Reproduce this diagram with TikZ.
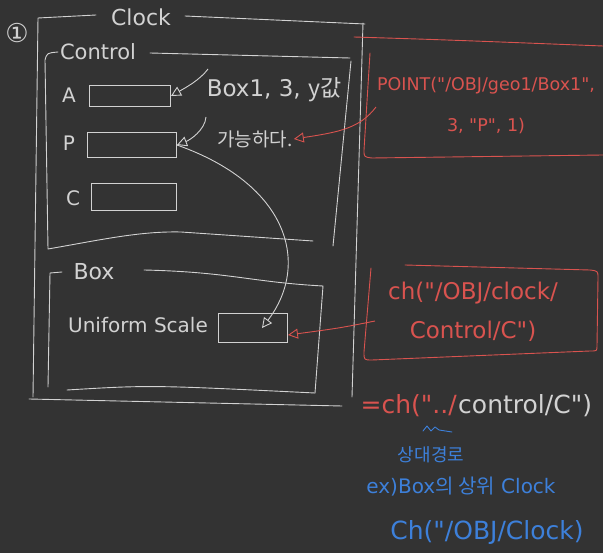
\documentclass[tikz,border=0pt]{standalone}
\usepackage{fontspec}
\setmainfont{DejaVu Sans}[Ligatures=TeXOff]
\newfontfamily\kor{Noto Sans CJK KR}
\usetikzlibrary{arrows.meta, positioning, calc}
\usepackage{xcolor}
\definecolor{boardgrey}{HTML}{333333}
\definecolor{chalkwhite}{HTML}{D2D2D2}
\definecolor{penred}{HTML}{D9534F}
\definecolor{penblue}{HTML}{3D80DA}
\tikzset{
  frameline/.style={draw=chalkwhite, line width=0.9pt, line cap=round, line join=round},
  redline/.style={draw=penred, line width=0.9pt, line cap=round, line join=round},
  blueline/.style={draw=penblue, line width=0.9pt, line cap=round, line join=round},
  fieldbox/.style={rectangle, draw=chalkwhite, line width=0.9pt, inner sep=0pt},
  chalktext/.style={text=chalkwhite, inner sep=1pt, font=\fontsize{20}{22}\selectfont},
  redtext/.style={text=penred, inner sep=1pt, align=center},
  bluetext/.style={text=penblue, inner sep=1pt},
  notelink/.style={->, draw=chalkwhite, line width=0.9pt,
                   >={Triangle[open, length=10pt, width=10pt]}},
  redlink/.style={->, draw=penred, line width=0.9pt,
                  >={Triangle[open, length=10pt, width=10pt]}},
}

\begin{document}
\begin{tikzpicture}[x=1pt, y=-1pt]
  \useasboundingbox (0,0) rectangle (603,553);
  \fill[boardgrey] (0,0) rectangle (603,553);

  % --- Clock frame ---
  \node[chalktext, font=\fontsize{26}{28}\selectfont] (num) at (17,33) {①};
  \node[chalktext, font=\fontsize{22}{24}\selectfont] (clocktitle) at (141,17) {Clock};
  \draw[frameline] (96,15) -- (38,18) -- (33,397);
  \draw[frameline] (185,16) -- (365,24);
  \draw[frameline] (363,23) -- (352,397);
  \draw[frameline] (29,399) -- (342,406);

  % --- Control frame ---
  \node[chalktext, font=\fontsize{21}{23}\selectfont] (controltitle) at (98,52) {Control};
  \draw[frameline] (58,52) .. controls (47,53) .. (45,60) -- (48,249)
        .. controls (100,240) and (140,231) .. (181,232) -- (313,241);
  \draw[frameline] (150,53) -- (350,58);
  \draw[frameline] (351,61) -- (333,246);

  \node[chalktext] (labA) at (69,95)  {A};
  \node[chalktext] (labP) at (69,143) {P};
  \node[chalktext] (labC) at (73,198) {C};
  \node[fieldbox, minimum width=81pt, minimum height=21pt] (fieldA) at (130,96)  {};
  \node[fieldbox, minimum width=89pt, minimum height=25pt] (fieldP) at (132,145) {};
  \node[fieldbox, minimum width=85pt, minimum height=27pt] (fieldC) at (134,197) {};

  \node[chalktext, font=\fontsize{23}{25}\selectfont] (noteA) at (274,90) {Box1, 3, {\kor y값}};
  \node[chalktext, font=\fontsize{19}{21}\kor] (noteP) at (255,139) {가능하다.};

  \coordinate (tailA) at (208,69);
  \coordinate (tailP) at (206,117);
  \draw[notelink] (tailA) .. controls (200,80) and (185,88) .. (fieldA.east);
  \draw[notelink] (tailP) .. controls (205,130) and (190,140) .. (fieldP.east);

  % --- Box frame ---
  \node[chalktext, font=\fontsize{22}{24}\selectfont] (boxtitle) at (94,272) {Box};
  \draw[frameline] (62,272) -- (50,273) -- (48,387);
  \draw[frameline] (144,270) .. controls (230,272) and (250,282) .. (323,286) -- (315,393);
  \draw[frameline] (67,390) .. controls (150,385) .. (315,393);

  \node[chalktext] (uniform) at (138,325) {Uniform Scale};
  \node[fieldbox, minimum width=69pt, minimum height=29pt] (fieldU) at (253,328) {};

  \draw[notelink] (fieldP.east) .. controls (290,185) and (310,265) .. ([xshift=9pt]fieldU.center);

  % --- Red notes ---
  \draw[redline] (354,37) .. controls (450,40) .. (603,46);
  \draw[redline] (370,53) -- (364,150) .. controls (364,157) .. (372,158) -- (603,155);
  \node[redtext, font=\fontsize{17.5}{41}\selectfont] (pointexpr) at (486,106)
    {POINT("/OBJ/geo1/Box1",\\3, "P", 1)};
  \coordinate (tailpoint) at (376,107);
  \draw[redlink] (tailpoint) .. controls (360,128) and (340,132) .. (noteP.east);

  \draw[redline] (405,265) -- (590,270) .. controls (598,271) .. (598,278) -- (597,346)
        .. controls (597,351) .. (590,351) -- (372,360) .. controls (364,360) .. (364,352)
        -- (371,268);
  \node[redtext, font=\fontsize{23}{39}\selectfont] (chexpr) at (473,312)
    {ch("/OBJ/clock/\\Control/C")};
  \coordinate (tailch) at (375,321);
  \draw[redlink] (tailch) .. controls (340,328) .. ([yshift=-7pt]fieldU.east);

  % --- Relative path ---
  \node[redtext, font=\fontsize{25}{27}\selectfont, anchor=east] (relred) at (458,406) {=ch("../};
  \node[chalktext, font=\fontsize{25}{27}\selectfont, anchor=west, inner sep=0pt] (relwhite)
    at (relred.east) {control/C")};
  \draw[blueline] (423,431) -- (427,426) -- (431,431) -- (435,427) -- (439,430) -- (452,432);

  % --- Blue notes ---
  \node[bluetext, font=\fontsize{18}{20}\kor] (kornote) at (431,455) {상대경로};
  \node[bluetext, font=\fontsize{20}{22}\selectfont] (exnote) at (461,487) {ex)Box{\kor 의 상위} Clock};
  \node[bluetext, font=\fontsize{25}{27}\selectfont] (pathnote) at (487,533) {Ch("/OBJ/Clock)};
\end{tikzpicture}
\end{document}
